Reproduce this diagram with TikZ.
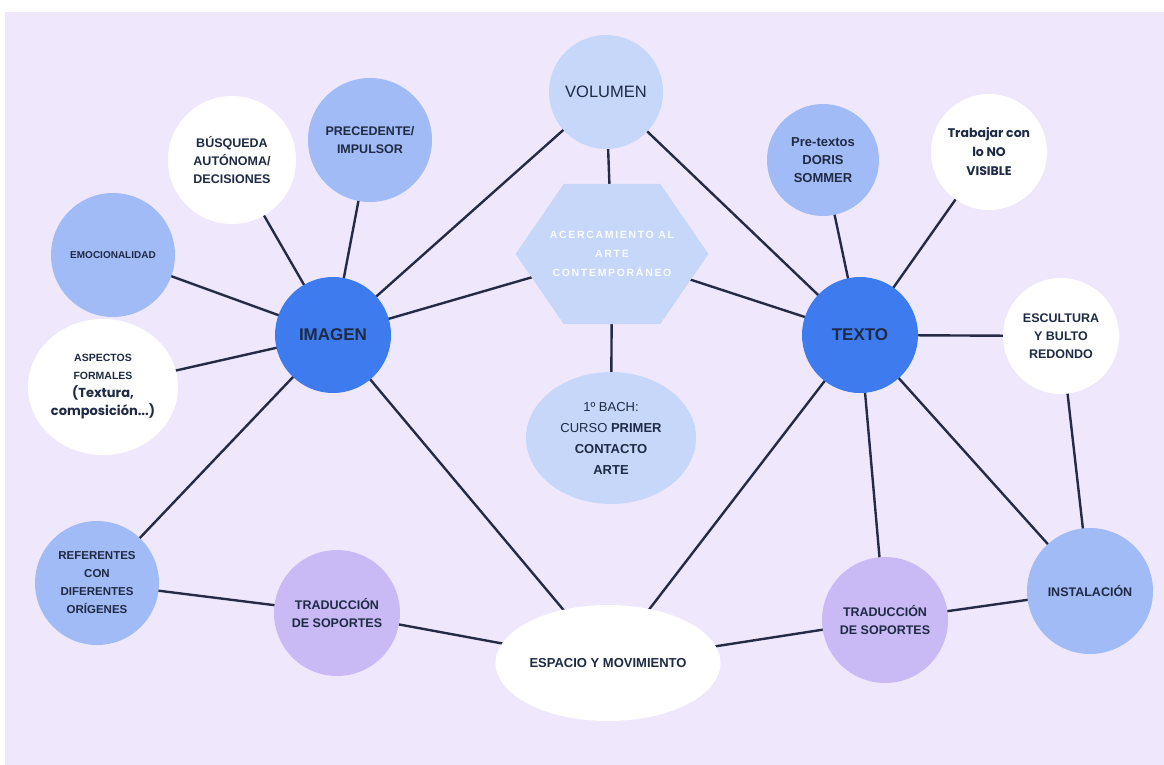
\documentclass[tikz,border=0pt]{standalone}
\usepackage{fontspec}
\setmainfont{Liberation Sans}
\newfontfamily\geofont{Poppins}
\usetikzlibrary{positioning, shapes.geometric, backgrounds}

\definecolor{bgviolet}{HTML}{EFE8FD}
\definecolor{hubblue}{HTML}{3D7BEF}
\definecolor{paleblue}{HTML}{C6D7F9}
\definecolor{midblue}{HTML}{A0BBF5}
\definecolor{lilac}{HTML}{C9BAF6}
\definecolor{inkblue}{HTML}{1F2A44}
\definecolor{linkcol}{HTML}{262B45}

\begin{document}
\begin{tikzpicture}[
    x=1pt, y=-1pt,
    every node/.style={align=center, text=inkblue, inner sep=1pt},
    hub/.style={circle, fill=hubblue, minimum size=116pt,
                font=\fontsize{17}{20}\selectfont\bfseries},
    pale/.style={circle, fill=paleblue, minimum size=114pt},
    mid/.style={circle, fill=midblue, minimum size=124pt,
                font=\fontsize{12.5}{18}\selectfont\bfseries},
    lil/.style={circle, fill=lilac, minimum size=126pt,
                font=\fontsize{12.5}{18}\selectfont\bfseries},
    blank/.style={circle, fill=white, minimum size=124pt,
                  font=\fontsize{12.5}{18}\selectfont\bfseries},
    hexbox/.style={regular polygon, regular polygon sides=6, fill=paleblue,
                   minimum size=162pt, inner sep=0pt, transform shape},
    hextext/.style={text=white!92!paleblue,
                    font=\fontsize{10.5}{19}\selectfont\bfseries\addfontfeature{LetterSpace=16}},
    link/.style={line width=2.4pt, draw=linkcol, line cap=round},
]
\useasboundingbox (0,0) rectangle (1164,765);

% Nodes
\node[pale, font=\fontsize{16.5}{18}\selectfont] (vol) at (606,92) {VOLUMEN};
\begin{scope}[shift={(612,254)}, xscale=1.19]
  \node[hexbox] (hex) {};
\end{scope}
\node[hextext] at (hex.center) {ACERCAMIENTO AL\\ARTE\\CONTEMPORÁNEO};
\node[pale, minimum width=170pt, minimum height=132pt, ellipse,
      font=\fontsize{13}{21}\selectfont] (bach) at (611,438)
      {1º BACH:\\CURSO \textbf{PRIMER}\\\textbf{CONTACTO}\\\textbf{ARTE}};

\node[hub] (img) at (333,335) {IMAGEN};
\node[hub] (txt) at (860,335) {TEXTO};

\node[blank, minimum size=128pt] (busq) at (232,160) {BÚSQUEDA\\AUTÓNOMA/\\DECISIONES};
\node[mid] (prec) at (370,140) {PRECEDENTE/\\IMPULSOR};
\node[mid, font=\fontsize{10}{12}\selectfont\bfseries] (emoc) at (113,255) {EMOCIONALIDAD};
\node[blank, ellipse, minimum width=146pt, minimum height=136pt,
      font=\fontsize{10.5}{18}\selectfont\bfseries] (asp) at (103,387)
      {ASPECTOS\\FORMALES\\{\geofont\fontsize{13}{18}\selectfont (Textura,}\\{\geofont\fontsize{13}{18}\selectfont composición...)}};
\node[mid, font=\fontsize{11.5}{18}\selectfont\bfseries] (refs) at (97,583)
      {REFERENTES\\CON\\DIFERENTES\\ORÍGENES};
\node[lil] (tradL) at (337,613) {TRADUCCIÓN\\DE SOPORTES};
\node[blank, ellipse, minimum width=210pt, minimum height=116pt,
      font=\fontsize{13}{18}\selectfont\bfseries] (esp) at (608,663) {ESPACIO Y MOVIMIENTO};

\node[mid, minimum size=112pt, font=\fontsize{13}{18}\selectfont\bfseries] (pre) at (823,160)
      {Pre-textos\\DORIS\\SOMMER};
\node[blank, minimum size=116pt, font=\geofont\fontsize{12.5}{19}\selectfont\bfseries] (novis) at (989,152)
      {Trabajar con\\lo NO\\VISIBLE};
\node[blank, minimum size=116pt] (escul) at (1061,336) {ESCULTURA\\Y BULTO\\REDONDO};
\node[lil] (tradR) at (885,620) {TRADUCCIÓN\\DE SOPORTES};
\node[mid, minimum size=126pt] (inst) at (1090,591) {INSTALACIÓN};

% Edges
\begin{pgfonlayer}{background}
  \fill[bgviolet] (5,12) rectangle (1164,765);
  \foreach \a/\b in {img/vol, img/hex, img/esp, img/refs, img/asp, img/emoc,
                     img/busq, img/prec, refs/tradL, tradL/esp, esp/tradR,
                     tradR/inst, txt/esp, txt/tradR, txt/inst, txt/escul,
                     escul/inst, txt/novis, txt/pre, txt/hex, txt/vol,
                     vol/hex, hex/bach}
    \draw[link] (\a.center) -- (\b.center);
\end{pgfonlayer}

\end{tikzpicture}
\end{document}
